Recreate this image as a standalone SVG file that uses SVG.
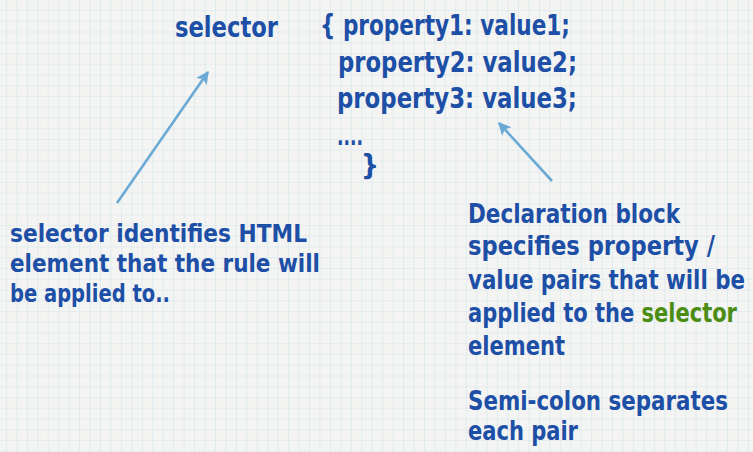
<svg xmlns="http://www.w3.org/2000/svg" width="753" height="452" viewBox="0 0 753 452">
<defs>
<pattern id="grid" x="6" y="10" width="10.45" height="10.75" patternUnits="userSpaceOnUse">
<path d="M0 0V10.75M0 0H10.45" fill="none" stroke="#d3e6ec" stroke-width="1.2"/>
</pattern>
<marker id="ah" viewBox="0 0 10 10" refX="9" refY="5" markerWidth="5" markerHeight="5" orient="auto" markerUnits="strokeWidth">
<path d="M0 0L10 5L0 10L2.5 5Z" fill="#6aaad5"/>
</marker>
<style>
text{font-family:"Liberation Sans Narrow","DejaVu Sans Condensed","Roboto Condensed",sans-serif;font-weight:bold;fill:#1d4fa6;}
.code{font-size:28px;}
.dots{font-size:24px;}
.note{font-size:24px;}
.big{font-size:27px;}
.green{fill:#4b8c13;}
.arrow{stroke:#6aaad5;stroke-width:2.6;fill:none;marker-end:url(#ah);}
</style>
</defs>
<rect width="753" height="452" fill="#f4f4f3"/>
<rect width="753" height="452" fill="url(#grid)"/>
<g id="selector">
<text class="code" x="175" y="37" textLength="103" lengthAdjust="spacingAndGlyphs">selector</text>
</g>
<g id="declaration">
<text class="code" x="320" y="35" textLength="250" lengthAdjust="spacingAndGlyphs">{ property1: value1;</text>
<text class="code" x="338" y="72" textLength="239" lengthAdjust="spacingAndGlyphs">property2: value2;</text>
<text class="code" x="337" y="108" textLength="240" lengthAdjust="spacingAndGlyphs">property3: value3;</text>
<text class="dots" x="337" y="145" textLength="26" lengthAdjust="spacingAndGlyphs">....</text>
<text class="code" x="361" y="175">}</text>
</g>
<g id="selector-note">
<text class="note" x="10" y="242" textLength="297" lengthAdjust="spacingAndGlyphs">selector identifies HTML</text>
<text class="note" x="10" y="272" textLength="310" lengthAdjust="spacingAndGlyphs">element that the rule will</text>
<text class="note" x="10" y="302" textLength="160" lengthAdjust="spacingAndGlyphs">be applied to..</text>
</g>
<g id="declaration-note">
<text class="big" x="468" y="223" textLength="212" lengthAdjust="spacingAndGlyphs">Declaration block</text>
<text class="big" x="468" y="255" textLength="247" lengthAdjust="spacingAndGlyphs">specifies property /</text>
<text class="big" x="468" y="289" textLength="277" lengthAdjust="spacingAndGlyphs">value pairs that will be</text>
<text class="big" x="468" y="322" textLength="269" lengthAdjust="spacingAndGlyphs">applied to the <tspan class="green">selector</tspan></text>
<text class="big" x="468" y="355" textLength="97" lengthAdjust="spacingAndGlyphs">element</text>
<text class="big" x="468" y="410" textLength="260" lengthAdjust="spacingAndGlyphs">Semi-colon separates</text>
<text class="big" x="468" y="440" textLength="110" lengthAdjust="spacingAndGlyphs">each pair</text>
</g>
<g id="connectors">
<line class="arrow" x1="117" y1="203" x2="208" y2="72"/>
<line class="arrow" x1="552" y1="181" x2="499" y2="123"/>
</g>
</svg>
